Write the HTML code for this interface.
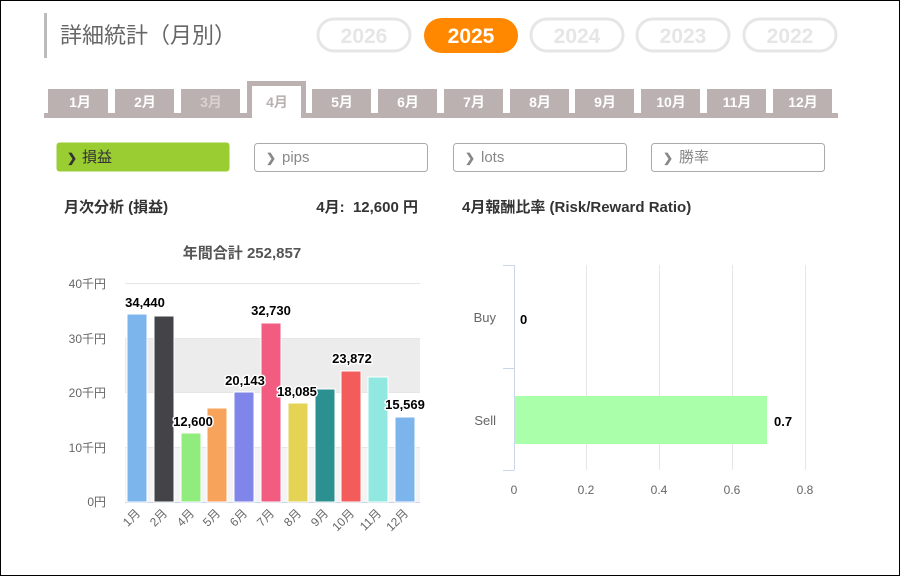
<!DOCTYPE html>
<html><head><meta charset="utf-8"><style>
html,body{margin:0;padding:0;background:#fff}
svg{display:block}
text{font-family:"Liberation Sans","Noto Sans CJK JP",sans-serif}
</style></head><body>
<svg width="900" height="576" viewBox="0 0 900 576" xmlns="http://www.w3.org/2000/svg">
<rect x="0.5" y="0.5" width="899" height="575" fill="#fff" stroke="#000"/>
<rect x="44" y="13" width="3" height="45" fill="#bbb"/>
<text x="60" y="43" font-size="22" fill="#666">詳細統計（月別）</text>
<g font-size="21" font-weight="bold" text-anchor="middle">
<rect x="318" y="19" width="92" height="32" rx="16" fill="#fff" stroke="#e6e6e6" stroke-width="3"/><text x="364" y="43" fill="#e6e6e6">2026</text>
<rect x="424" y="18" width="94" height="35" rx="17.5" fill="#ff8800"/><text x="471" y="43" fill="#fff">2025</text>
<rect x="531" y="19" width="92" height="32" rx="16" fill="#fff" stroke="#e6e6e6" stroke-width="3"/><text x="577" y="43" fill="#e6e6e6">2024</text>
<rect x="637" y="19" width="92" height="32" rx="16" fill="#fff" stroke="#e6e6e6" stroke-width="3"/><text x="683" y="43" fill="#e6e6e6">2023</text>
<rect x="744" y="19" width="92" height="32" rx="16" fill="#fff" stroke="#e6e6e6" stroke-width="3"/><text x="790" y="43" fill="#e6e6e6">2022</text>
</g>
<rect x="44" y="113" width="794" height="5" fill="#bab1b0"/>
<g font-size="14" font-weight="bold" text-anchor="middle" fill="#fff">
<rect x="48" y="89" width="60" height="25" fill="#bab1b0"/><text x="80" y="107">1月</text>
<rect x="115" y="89" width="59" height="25" fill="#bab1b0"/><text x="145" y="107">2月</text>
<rect x="181" y="89" width="59" height="25" fill="#bab1b0"/><text x="211" y="107" fill="#d8d2d1">3月</text>
<rect x="247" y="81" width="59" height="37" fill="#bab1b0"/><rect x="252" y="86" width="49" height="32" fill="#fff"/><text x="277" y="107" fill="#bab1b0">4月</text>
<rect x="312" y="89" width="59" height="25" fill="#bab1b0"/><text x="342" y="107">5月</text>
<rect x="378" y="89" width="59" height="25" fill="#bab1b0"/><text x="408" y="107">6月</text>
<rect x="444" y="89" width="59" height="25" fill="#bab1b0"/><text x="474" y="107">7月</text>
<rect x="510" y="89" width="59" height="25" fill="#bab1b0"/><text x="540" y="107">8月</text>
<rect x="575" y="89" width="59" height="25" fill="#bab1b0"/><text x="605" y="107">9月</text>
<rect x="641" y="89" width="59" height="25" fill="#bab1b0"/><text x="671" y="107">10月</text>
<rect x="707" y="89" width="59" height="25" fill="#bab1b0"/><text x="737" y="107">11月</text>
<rect x="773" y="89" width="59" height="25" fill="#bab1b0"/><text x="803" y="107">12月</text>
</g>
<g font-size="15">
<rect x="56.5" y="142.5" width="173" height="29" rx="3" fill="#9acd32"/>
<text x="67" y="162" font-size="12" font-weight="bold" fill="#333">❯</text><text x="82" y="162" fill="#333">損益</text>
<rect x="254.5" y="143.5" width="173" height="28" rx="3" fill="#fff" stroke="#aaa"/>
<text x="266" y="162" font-size="12" font-weight="bold" fill="#888">❯</text><text x="282" y="162" fill="#888">pips</text>
<rect x="453.5" y="143.5" width="173" height="28" rx="3" fill="#fff" stroke="#aaa"/>
<text x="465" y="162" font-size="12" font-weight="bold" fill="#888">❯</text><text x="481" y="162" fill="#888">lots</text>
<rect x="651.5" y="143.5" width="173" height="28" rx="3" fill="#fff" stroke="#aaa"/>
<text x="663" y="162" font-size="12" font-weight="bold" fill="#888">❯</text><text x="679" y="162" fill="#888">勝率</text>
</g>
<g font-size="15" font-weight="bold" fill="#333">
<text x="64" y="212">月次分析 (損益)</text>
<text x="418" y="212" text-anchor="end">4月:&#160;&#160;12,600 円</text>
<text x="462" y="212">4月報酬比率 (Risk/Reward Ratio)</text>
</g>
<text x="242" y="258" font-size="15" font-weight="bold" fill="#555" text-anchor="middle">年間合計 252,857</text>
<rect x="125" y="338" width="295" height="55" fill="#ececec"/>
<rect x="125" y="447" width="295" height="55" fill="#f4f4f4"/>
<g stroke="#e6e6e6" stroke-width="1">
<line x1="125" y1="283.5" x2="420" y2="283.5"/>
<line x1="125" y1="338.5" x2="420" y2="338.5"/>
<line x1="125" y1="392.5" x2="420" y2="392.5"/>
<line x1="125" y1="447.5" x2="420" y2="447.5"/>
</g>
<line x1="125" y1="502.5" x2="420" y2="502.5" stroke="#ccd6eb"/>
<g font-size="12" fill="#666" text-anchor="end">
<text x="106" y="288">40千円</text><text x="106" y="343">30千円</text><text x="106" y="397">20千円</text><text x="106" y="452">10千円</text><text x="106" y="506">0円</text>
</g>
<g stroke="#fff" stroke-width="1">
<rect x="127" y="314" width="20" height="188" fill="#7cb5ec"/>
<rect x="154" y="316" width="20" height="186" fill="#434348"/>
<rect x="181" y="433" width="20" height="69" fill="#90ed7d"/>
<rect x="207" y="408" width="20" height="94" fill="#f7a35c"/>
<rect x="234" y="392" width="20" height="110" fill="#8085e9"/>
<rect x="261" y="323" width="20" height="179" fill="#f15c80"/>
<rect x="288" y="403" width="20" height="99" fill="#e4d354"/>
<rect x="315" y="389" width="20" height="113" fill="#2b908f"/>
<rect x="341" y="371" width="20" height="131" fill="#f45b5b"/>
<rect x="368" y="377" width="20" height="125" fill="#91e8e1"/>
<rect x="395" y="417" width="20" height="85" fill="#7cb5ec"/>
</g>
<g font-size="13" font-weight="bold" fill="#000" text-anchor="middle" stroke="#fff" stroke-width="3" paint-order="stroke" stroke-linejoin="round">
<text x="145" y="307">34,440</text>
<text x="271" y="315">32,730</text>
<text x="193" y="426">12,600</text>
<text x="245" y="385">20,143</text>
<text x="297" y="396">18,085</text>
<text x="352" y="363">23,872</text>
<text x="405" y="409">15,569</text>
</g>
<g font-size="12" fill="#666" text-anchor="end">
<text transform="translate(141,514) rotate(-45)">1月</text>
<text transform="translate(168,514) rotate(-45)">2月</text>
<text transform="translate(195,514) rotate(-45)">4月</text>
<text transform="translate(221,514) rotate(-45)">5月</text>
<text transform="translate(248,514) rotate(-45)">6月</text>
<text transform="translate(275,514) rotate(-45)">7月</text>
<text transform="translate(302,514) rotate(-45)">8月</text>
<text transform="translate(329,514) rotate(-45)">9月</text>
<text transform="translate(355,514) rotate(-45)">10月</text>
<text transform="translate(382,514) rotate(-45)">11月</text>
<text transform="translate(409,514) rotate(-45)">12月</text>
</g>
<g stroke="#e6e6e6">
<line x1="586.5" y1="265" x2="586.5" y2="470"/>
<line x1="659.5" y1="265" x2="659.5" y2="470"/>
<line x1="732.5" y1="265" x2="732.5" y2="470"/>
<line x1="805.5" y1="265" x2="805.5" y2="470"/>
</g>
<g stroke="#ccd6eb" fill="none">
<line x1="514.5" y1="265" x2="514.5" y2="470"/>
<line x1="503" y1="265.5" x2="514" y2="265.5"/>
<line x1="503" y1="368.5" x2="514" y2="368.5"/>
<line x1="503" y1="470.5" x2="514" y2="470.5"/>
</g>
<rect x="515" y="396" width="252" height="48" fill="#aaffaa"/>
<g font-size="13" fill="#666" text-anchor="end">
<text x="496" y="322">Buy</text><text x="496" y="425">Sell</text>
</g>
<g font-size="13" font-weight="bold" fill="#000">
<text x="520" y="324">0</text><text x="774" y="426">0.7</text>
</g>
<g font-size="12" fill="#666" text-anchor="middle">
<text x="514" y="494">0</text><text x="586" y="494">0.2</text><text x="659" y="494">0.4</text><text x="732" y="494">0.6</text><text x="805" y="494">0.8</text>
</g>
</svg>
</body></html>
